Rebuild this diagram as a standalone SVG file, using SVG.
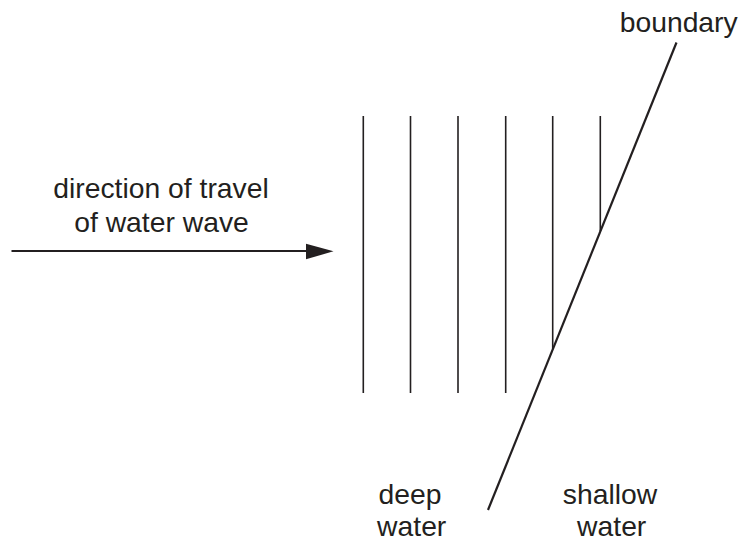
<svg xmlns="http://www.w3.org/2000/svg" width="743" height="542" viewBox="0 0 743 542">
<style>
text{font-family:"Liberation Sans",Arial,sans-serif;font-size:28.3px;fill:#231f20;text-anchor:middle}
.wave{stroke:#231f20;stroke-width:1.6;fill:none}
.bd{stroke:#231f20;stroke-width:2.2;fill:none}
</style>
<rect width="743" height="542" fill="#fff"/>
<g id="wavefronts">
<line class="wave" x1="363.3" y1="116" x2="363.3" y2="393"/>
<line class="wave" x1="410.5" y1="116" x2="410.5" y2="393"/>
<line class="wave" x1="458" y1="116" x2="458" y2="393"/>
<line class="wave" x1="505.7" y1="116" x2="505.7" y2="393"/>
<line class="wave" x1="552.7" y1="116" x2="552.7" y2="349"/>
<line class="wave" x1="600.3" y1="116" x2="600.3" y2="231"/>
</g>
<g id="boundary">
<line class="bd" x1="676.5" y1="42.5" x2="488" y2="510"/>
<text x="678.7" y="32">boundary</text>
</g>
<g id="arrow">
<line x1="11.5" y1="251" x2="310" y2="251" stroke="#231f20" stroke-width="2"/>
<polygon points="306,243.8 333.5,251.3 306,259.3" fill="#231f20"/>
<text x="161" y="198">direction of travel</text>
<text x="161.5" y="231.5">of water wave</text>
</g>
<g id="deep">
<text x="410" y="503.5">deep</text>
<text x="411.7" y="535.5">water</text>
</g>
<g id="shallow">
<text x="610" y="503.5">shallow</text>
<text x="611.7" y="535.5">water</text>
</g>
</svg>
